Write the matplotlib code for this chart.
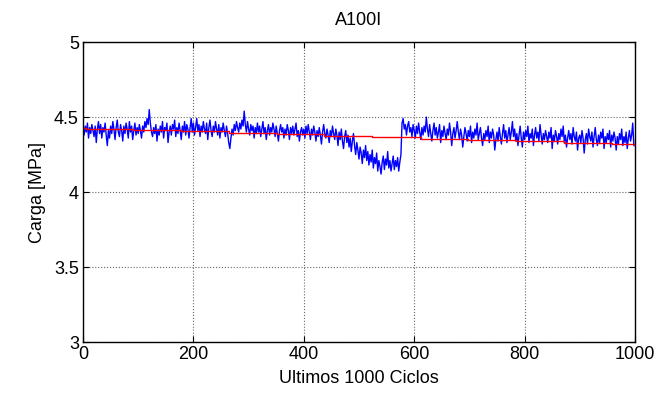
import numpy as np
import matplotlib
matplotlib.use("Agg")
import matplotlib.pyplot as plt

plt.rcParams['font.family'] = ['Liberation Sans', 'DejaVu Sans']

# load readings, one every 2 cycles over the last 1000 cycles (10 per row = 20 cycles)
carga = [
    4.42, 4.38, 4.44, 4.40, 4.46, 4.36, 4.43, 4.39, 4.45, 4.41,
    4.37, 4.44, 4.33, 4.42, 4.47, 4.39, 4.45, 4.36, 4.43, 4.40,
    4.46, 4.38, 4.31, 4.41, 4.36, 4.44, 4.39, 4.47, 4.42, 4.35,
    4.43, 4.48, 4.40, 4.37, 4.45, 4.41, 4.34, 4.44, 4.39, 4.46,
    4.42, 4.36, 4.47, 4.40, 4.44, 4.35, 4.41, 4.46, 4.38, 4.43,
    4.39, 4.45, 4.41, 4.36, 4.44, 4.40, 4.47, 4.43, 4.49, 4.45,
    4.55, 4.46, 4.40, 4.37, 4.43, 4.39, 4.45, 4.34, 4.42, 4.38,
    4.44, 4.40, 4.47, 4.36, 4.43, 4.41, 4.46, 4.33, 4.40, 4.44,
    4.38, 4.45, 4.42, 4.48, 4.37, 4.43, 4.39, 4.46, 4.41, 4.35,
    4.44, 4.40, 4.47, 4.38, 4.45, 4.42, 4.36, 4.43, 4.49, 4.40,
    4.46, 4.38, 4.43, 4.49, 4.41, 4.45, 4.37, 4.44, 4.40, 4.47,
    4.42, 4.39, 4.46, 4.35, 4.43, 4.48, 4.41, 4.37, 4.44, 4.40,
    4.47, 4.42, 4.38, 4.45, 4.36, 4.43, 4.40, 4.46, 4.41, 4.37,
    4.44, 4.39, 4.33, 4.29, 4.36, 4.42, 4.38, 4.45, 4.41, 4.47,
    4.43, 4.40, 4.46, 4.42, 4.48, 4.44, 4.54, 4.45, 4.40, 4.47,
    4.42, 4.38, 4.45, 4.41, 4.44, 4.36, 4.43, 4.39, 4.46, 4.40,
    4.44, 4.37, 4.42, 4.47, 4.39, 4.43, 4.35, 4.41, 4.45, 4.38,
    4.43, 4.40, 4.46, 4.42, 4.37, 4.44, 4.39, 4.34, 4.41, 4.45,
    4.40, 4.43, 4.36, 4.42, 4.38, 4.45, 4.41, 4.35, 4.43, 4.39,
    4.44, 4.38, 4.42, 4.46, 4.37, 4.41, 4.34, 4.40, 4.43, 4.38,
    4.42, 4.36, 4.44, 4.39, 4.45, 4.40, 4.35, 4.42, 4.38, 4.44,
    4.40, 4.34, 4.41, 4.37, 4.43, 4.38, 4.32, 4.40, 4.45, 4.39,
    4.36, 4.42, 4.38, 4.33, 4.41, 4.37, 4.44, 4.39, 4.35, 4.42,
    4.38, 4.31, 4.40, 4.35, 4.42, 4.34, 4.29, 4.37, 4.41, 4.33,
    4.38, 4.30, 4.36, 4.27, 4.34, 4.39, 4.31, 4.25, 4.33, 4.28,
    4.22, 4.30, 4.26, 4.19, 4.28, 4.23, 4.31, 4.21, 4.27, 4.18,
    4.25, 4.20, 4.28, 4.16, 4.23, 4.19, 4.26, 4.14, 4.21, 4.17,
    4.12, 4.20, 4.24, 4.15, 4.22, 4.18, 4.27, 4.16, 4.21, 4.14,
    4.19, 4.24, 4.15, 4.21, 4.17, 4.23, 4.14, 4.20, 4.25, 4.46,
    4.49, 4.42, 4.45, 4.38, 4.44, 4.47, 4.40, 4.43, 4.37, 4.45,
    4.41, 4.36, 4.44, 4.39, 4.46, 4.40, 4.35, 4.43, 4.38, 4.44,
    4.40, 4.50, 4.42, 4.37, 4.45, 4.39, 4.34, 4.41, 4.46, 4.38,
    4.43, 4.36, 4.40, 4.45, 4.33, 4.41, 4.37, 4.44, 4.39, 4.35,
    4.42, 4.38, 4.46, 4.40, 4.31, 4.39, 4.43, 4.36, 4.41, 4.47,
    4.40, 4.35, 4.42, 4.38, 4.30, 4.37, 4.43, 4.39, 4.34, 4.41,
    4.37, 4.44, 4.33, 4.40, 4.36, 4.42, 4.38, 4.46, 4.35, 4.39,
    4.43, 4.36, 4.31, 4.39, 4.35, 4.41, 4.37, 4.44, 4.33, 4.40,
    4.36, 4.42, 4.38, 4.28, 4.35, 4.40, 4.34, 4.43, 4.37, 4.32,
    4.39, 4.45, 4.36, 4.41, 4.33, 4.38, 4.43, 4.35, 4.40, 4.47,
    4.37, 4.42, 4.34, 4.39, 4.31, 4.38, 4.44, 4.36, 4.30, 4.40,
    4.35, 4.41, 4.37, 4.44, 4.33, 4.39, 4.36, 4.42, 4.31, 4.38,
    4.43, 4.36, 4.40, 4.34, 4.45, 4.38, 4.32, 4.39, 4.35, 4.41,
    4.37, 4.33, 4.40, 4.36, 4.43, 4.29, 4.38, 4.34, 4.41, 4.37,
    4.32, 4.39, 4.35, 4.42, 4.37, 4.44, 4.33, 4.38, 4.30, 4.36,
    4.41, 4.35, 4.39, 4.32, 4.43, 4.37, 4.34, 4.40, 4.28, 4.36,
    4.38, 4.33, 4.41, 4.36, 4.26, 4.35, 4.39, 4.32, 4.42, 4.37,
    4.34, 4.40, 4.30, 4.37, 4.43, 4.35, 4.31, 4.38, 4.33, 4.40,
    4.36, 4.42, 4.29, 4.37, 4.33, 4.39, 4.35, 4.41, 4.30, 4.38,
    4.34, 4.40, 4.36, 4.28, 4.37, 4.32, 4.39, 4.35, 4.42, 4.31,
    4.37, 4.33, 4.40, 4.29, 4.36, 4.41, 4.34, 4.38, 4.46, 4.31,
]
ciclos = np.arange(0, 1000, 2)

# block means (start cycle of each block and its level)
bloque_inicio = [0, 5, 91, 178, 264, 351, 437, 524, 612, 698, 785, 871, 958, 1000]
media = [4.428, 4.418, 4.411, 4.405, 4.392, 4.384, 4.374, 4.368, 4.357,
         4.350, 4.341, 4.330, 4.321, 4.321]

fig = plt.figure(figsize=(6.61, 3.97), dpi=100)
ax = fig.add_axes([0.1256, 0.1385, 0.835, 0.7555])

ax.plot(ciclos, carga, color='blue', linewidth=1.0)
ax.step(bloque_inicio, media, where='post', color='red', linewidth=1.0)

ax.set_xlim(0, 1000)
ax.set_ylim(3, 5)
ax.set_xticks([0, 200, 400, 600, 800, 1000])
ax.set_yticks([3, 3.5, 4, 4.5, 5])
ax.set_yticklabels(['3', '3.5', '4', '4.5', '5'])
ax.grid(True, color='0.4', linestyle=':', linewidth=0.8)
ax.tick_params(direction='in', length=4, top=True, right=True, labelsize=13, pad=3)
for s in ax.spines.values():
    s.set_linewidth(1.0)

ax.set_title('A100I', fontsize=13, pad=12)
ax.set_xlabel('Ultimos 1000 Ciclos', fontsize=13, labelpad=5)
ax.set_ylabel('Carga [MPa]', fontsize=13, labelpad=6)

fig.savefig('out.png', dpi=100)
